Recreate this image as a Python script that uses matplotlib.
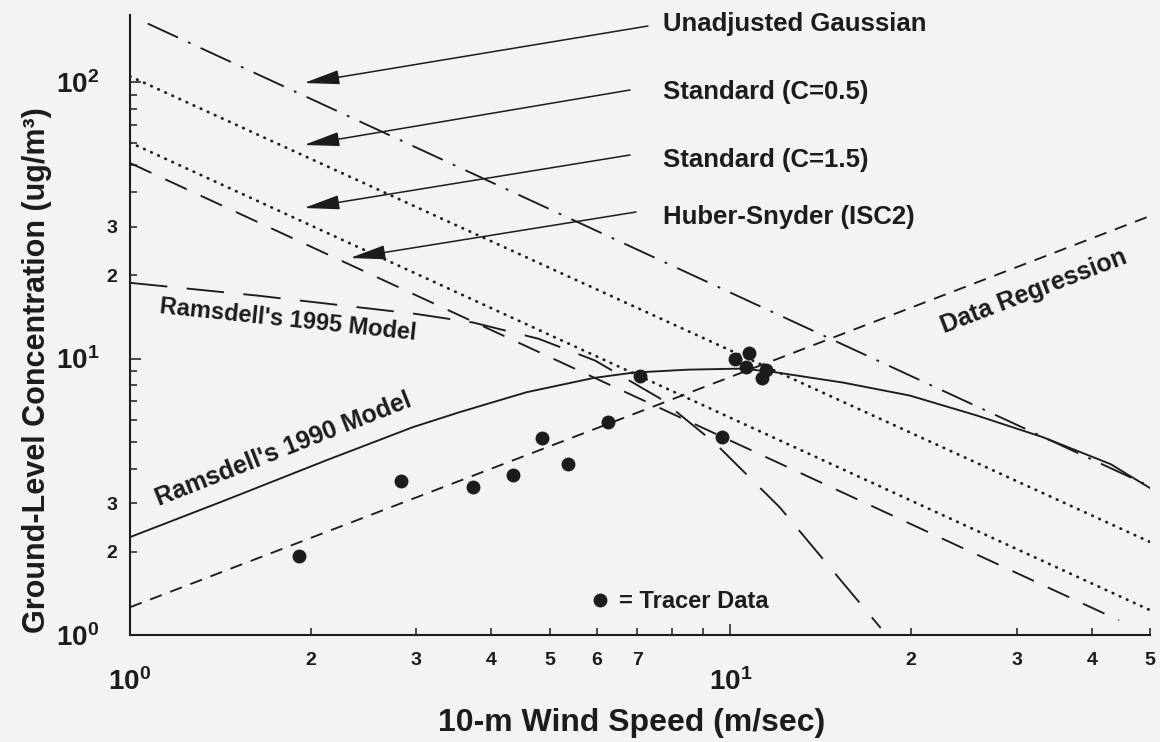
import numpy as np
import matplotlib
matplotlib.use("Agg")
import matplotlib.pyplot as plt
from matplotlib.lines import Line2D

plt.rcParams['font.family'] = ['Liberation Sans', 'DejaVu Sans']
plt.rcParams['font.weight'] = 'bold'
plt.rcParams['mathtext.fontset'] = 'custom'
plt.rcParams['mathtext.rm'] = 'Liberation Sans'
plt.rcParams['mathtext.bf'] = 'Liberation Sans:bold'
plt.rcParams['lines.scale_dashes'] = False

# --- values (wind speed m/s, conc ug/m3) ---
gauss_u = [1.07, 50.0]
gauss_c = [163.0, 3.45]

std05_u = [1.0, 50.0]
std05_c = [105.0, 2.17]

std15_u = [1.0, 50.0]
std15_c = [60.5, 1.23]

huber_u = [1.0, 44.4]
huber_c = [51.0, 1.13]

regr_u = [1.0, 50.0]
regr_c = [1.26, 32.8]

r1990_u = [1.0, 1.44, 2.12, 2.96, 3.54, 4.58, 5.92, 6.90, 8.5, 10.47, 11.89,
           15.4, 19.9, 25.7, 33.2, 43.0, 50.0]
r1990_c = [2.26, 3.07, 4.28, 5.65, 6.40, 7.56, 8.51, 8.90, 9.12, 9.20, 8.92,
           8.19, 7.35, 6.23, 5.19, 4.15, 3.40]

r1995_u = [1.0, 1.63, 3.0, 3.73, 4.79, 5.95, 7.64, 9.44, 12.08, 17.8]
r1995_c = [18.8, 16.9, 14.5, 13.5, 11.8, 9.84, 7.17, 4.93, 2.9, 1.06]

tracer_u = [1.91, 2.83, 3.73, 4.34, 4.85, 5.36, 6.25, 7.07, 9.70, 10.16, 10.76, 10.6, 11.45, 11.3]
tracer_c = [1.93, 3.60, 3.42, 3.78, 5.14, 4.14, 5.92, 8.68, 5.19, 10.0, 10.5, 9.36, 9.12, 8.54]

xmajor = [1, 10]
xmajor_lab = [r'$\mathbf{10^{0}}$', r'$\mathbf{10^{1}}$']
xminor = [2, 3, 4, 5, 6, 7, 8, 9, 20, 30, 40, 50]
xminor_lab = ['2', '3', '4', '5', '6', '7', '', '', '2', '3', '4', '5']

ymajor = [1, 10, 100]
ymajor_lab = [r'$\mathbf{10^{0}}$', r'$\mathbf{10^{1}}$', r'$\mathbf{10^{2}}$']
yminor = [2, 3, 4, 5, 6, 7, 8, 9, 20, 30, 40, 50, 60, 70, 80, 90]
yminor_lab = ['2', '3', '', '', '', '', '', '', '2', '3', '', '', '', '', '', '']

W, H = 1160, 742
ink = '#1c1c1c'
paper = '#f3f3f1'


def fx(px):
    return px / W


def fy(py):
    return 1 - py / H


fig = plt.figure(figsize=(W / 100, H / 100), dpi=100, facecolor=paper)
ax = fig.add_axes([fx(130), fy(635), (1150 - 130) / W, (635 - 15) / H])
ax.set_facecolor(paper)
ax.set_xscale('log')
ax.set_yscale('log')
ax.set_xlim(1, 50)
ax.set_ylim(1, 175)

lw = 1.35
ax.plot(gauss_u, gauss_c, color=ink, lw=lw, dashes=(24, 8, 2, 8))
ax.plot(std05_u, std05_c, color=ink, lw=2.0, dashes=(0.4, 5.2), dash_capstyle='round')
ax.plot(std15_u, std15_c, color=ink, lw=2.0, dashes=(0.4, 5.2), dash_capstyle='round')
ax.plot(huber_u, huber_c, color=ink, lw=lw, dashes=(17, 11))
ax.plot(regr_u, regr_c, color=ink, lw=lw, dashes=(9, 6.5))
ax.plot(r1990_u, r1990_c, color=ink, lw=lw, solid_joinstyle='round')
ax.plot(r1995_u, r1995_c, color=ink, lw=lw, dashes=(27, 14))
ax.plot(tracer_u, tracer_c, 'o', color=ink, ms=9, ls='')

# axes look
for s in ['top', 'right']:
    ax.spines[s].set_visible(False)
for s in ['left', 'bottom']:
    ax.spines[s].set_linewidth(1.5)
    ax.spines[s].set_color(ink)

ax.set_xticks(xmajor, labels=xmajor_lab)
ax.set_xticks(xminor, labels=xminor_lab, minor=True)
ax.set_yticks(ymajor, labels=ymajor_lab)
ax.set_yticks(yminor, labels=yminor_lab, minor=True)

ax.tick_params(which='both', direction='in', color=ink, labelcolor=ink, width=1.1)
ax.tick_params(which='major', length=8)
ax.tick_params(which='minor', length=5)
ax.tick_params(axis='x', which='major', labelsize=20, pad=24)
ax.tick_params(axis='x', which='minor', labelsize=14, pad=12)
ax.tick_params(axis='y', which='major', labelsize=20, pad=22)
ax.tick_params(axis='y', which='minor', labelsize=14, pad=9)

ax.set_xlabel('10-m Wind Speed (m/sec)', fontsize=23, fontweight='bold', color=ink)
ax.xaxis.set_label_coords((632 - 130) / 1020, (635 - 708) / 620)
ax.set_ylabel('Ground-Level Concentration (ug/m³)', fontsize=22, fontweight='bold', color=ink)
ax.yaxis.set_label_coords((52 - 130) / 1020, (635 - 370) / 620)

# model names with arrows
names = ['Unadjusted Gaussian', 'Standard (C=0.5)', 'Standard (C=1.5)', 'Huber-Snyder (ISC2)']
name_y = [24, 92, 160, 217]
tails = [(648, 26), (630, 90), (630, 155), (636, 212)]
tips = [(304, 83), (304, 145), (304, 208), (350, 258)]
for nm, ty, tl, tp in zip(names, name_y, tails, tips):
    fig.text(fx(663), fy(ty), nm, fontsize=18.5, fontweight='bold', color=ink,
             ha='left', va='center')
    ax.annotate('', xy=(fx(tp[0]), fy(tp[1])), xycoords='figure fraction',
                xytext=(fx(tl[0]), fy(tl[1])), textcoords='figure fraction',
                arrowprops=dict(arrowstyle='-|>,head_length=1.1,head_width=0.22',
                                mutation_scale=20, color=ink, lw=1.1,
                                shrinkA=0, shrinkB=0))

fig.text(fx(288), fy(320), "Ramsdell's 1995 Model", fontsize=17, fontweight='bold',
         color=ink, rotation=-6, rotation_mode='anchor', ha='center', va='center')
fig.text(fx(283), fy(449), "Ramsdell's 1990 Model", fontsize=18, fontweight='bold',
         color=ink, rotation=21.5, rotation_mode='anchor', ha='center', va='center')
fig.text(fx(1034), fy(291), "Data Regression", fontsize=18, fontweight='bold',
         color=ink, rotation=21, rotation_mode='anchor', ha='center', va='center')

# tracer legend
h = Line2D([], [], marker='o', ls='', color=ink, ms=9)
ax.legend([h], ['= Tracer Data'], loc='center left', bbox_to_anchor=(fx(588), fy(602)),
          bbox_transform=fig.transFigure, frameon=False, handletextpad=0.3,
          handlelength=1.0, borderpad=0, borderaxespad=0,
          prop={'size': 17, 'weight': 'bold'}, labelcolor=ink)

fig.savefig('out.png', dpi=100, facecolor=paper)
